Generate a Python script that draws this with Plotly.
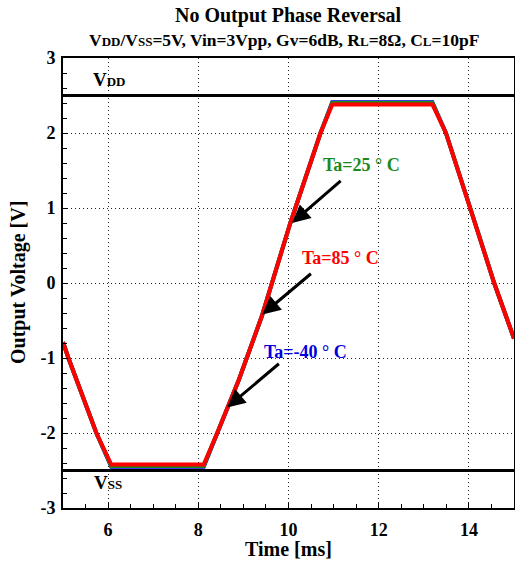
import plotly.graph_objects as go

# tempo (ms) e tensão de saída (V) para cada temperatura
time_ms = [5.0, 5.12, 5.74, 6.07, 8.12, 8.42, 8.90, 9.41, 10.04, 10.71, 10.97,
           13.19, 13.49, 14.03, 14.56, 15.0]
v_m40 = [-0.79, -1.0, -2.0, -2.45, -2.45, -2.0, -1.29, -0.44, 0.80, 2.0, 2.41,
         2.41, 2.0, 1.0, 0.0, -0.74]
v_25 = [-0.79, -1.0, -2.0, -2.44, -2.44, -2.0, -1.29, -0.44, 0.80, 2.0, 2.40,
        2.40, 2.0, 1.0, 0.0, -0.74]
v_85 = [-0.79, -1.0, -2.0, -2.42, -2.42, -2.0, -1.29, -0.44, 0.80, 2.0, 2.38,
        2.38, 2.0, 1.0, 0.0, -0.74]

rails = [2.5, -2.5]
x_ticks = [6, 8, 10, 12, 14]
y_ticks = [-3, -2, -1, 0, 1, 2, 3]

FONT = "Liberation Serif"
SM = "<span style='font-size:{}px'>{}</span>"

fig = go.Figure()
for v, c in [(v_m40, "#0000dd"), (v_25, "#1a8a1a"), (v_85, "#ff0000")]:
    fig.add_trace(go.Scatter(x=time_ms, y=v, mode="lines",
                             line=dict(color=c, width=4), showlegend=False))

for r in rails:
    fig.add_hline(y=r, line=dict(color="black", width=3))

ann = []
# rótulos VDD / VSS
ann.append(dict(x=6.03, y=2.71, text="V" + SM.format(13, "DD"),
                showarrow=False, font=dict(size=19)))
ann.append(dict(x=6.0, y=-2.66, text="V" + SM.format(13, "SS"),
                showarrow=False, font=dict(size=19)))

# setas e textos das temperaturas
labels = [("Ta=25 ° C", "#1a8a1a", 11.62, 1.57, 11.19, 1.38, 10.08, 0.80),
          ("Ta=85 ° C", "#ff0000", 11.16, 0.34, 10.53, 0.14, 9.42, -0.42),
          ("Ta=-40 ° C", "#0000dd", 10.38, -0.92, 9.82, -1.06, 8.64, -1.66)]
for txt, col, tx, ty, ax, ay, hx, hy in labels:
    ann.append(dict(x=tx, y=ty, text=txt, showarrow=False,
                    font=dict(size=18, color=col)))
    ann.append(dict(x=hx, y=hy, ax=ax, ay=ay, axref="x", ayref="y", text="",
                    showarrow=True, arrowhead=2, arrowsize=1.2, arrowwidth=3,
                    arrowcolor="black"))

# títulos
ann.append(dict(xref="paper", yref="paper", x=0.5, y=1, yshift=43,
                text="No Output Phase Reversal", showarrow=False,
                font=dict(size=20)))
ann.append(dict(xref="paper", yref="paper", x=0.49, y=1, yshift=18,
                text=("V" + SM.format(13, "DD") + "/V" + SM.format(13, "SS") + "=5V, "
                      "Vin=3Vpp, Gv=6dB, R" + SM.format(13, "L") + "=8Ω, "
                      "C" + SM.format(13, "L") + "=10pF"),
                showarrow=False, font=dict(size=17.5)))
# títulos dos eixos
ann.append(dict(xref="paper", yref="paper", x=0.5, y=0, yshift=-41,
                text="Time [ms]", showarrow=False, font=dict(size=20)))
ann.append(dict(xref="paper", yref="paper", x=0, y=0.5, xshift=-45,
                text="Output Voltage [V]", textangle=-90, showarrow=False,
                font=dict(size=20)))

for a in ann:
    a.setdefault("xref", "x")
    a.setdefault("yref", "y")
    if a["text"]:
        a["text"] = f"<b>{a['text']}</b>"
        a["xanchor"] = "center"
        a["yanchor"] = "middle"

fig.update_layout(
    width=515, height=567,
    margin=dict(l=63, r=1, t=58, b=59),
    plot_bgcolor="white", paper_bgcolor="white",
    font=dict(family=FONT, color="black", size=16),
    annotations=ann,
)

grid = dict(showgrid=True, gridcolor="#222222", gridwidth=1, griddash="1px,3px")
common = dict(showline=True, linecolor="black", linewidth=2, mirror=True,
              ticks="inside", ticklen=5, tickcolor="black", zeroline=False,
              automargin=False, tickfont=dict(size=18, family=FONT))

fig.update_xaxes(range=[5, 15], tickvals=x_ticks,
                 ticktext=[f"<b>{t}</b>" for t in x_ticks], **common, **grid,
                 ticklabelstandoff=4,
                 minor=dict(dtick=0.5, ticks="inside", ticklen=4, tickcolor="black",
                            showgrid=False))
fig.update_yaxes(range=[-3, 3], tickvals=y_ticks,
                 ticktext=[f"<b>{t}</b>" for t in y_ticks], **common, **grid,
                 ticklabelstandoff=2,
                 minor=dict(dtick=0.2, ticks="inside", ticklen=4, tickcolor="black",
                            showgrid=False))

# eixos espelhados (topo e direita) só para os ticks internos
fig.update_layout(
    xaxis2=dict(overlaying="x", side="top", range=[5, 15], tickvals=x_ticks,
                showticklabels=False, ticks="inside", ticklen=5, tickcolor="black",
                showgrid=False, zeroline=False, automargin=False,
                minor=dict(dtick=0.5, ticks="inside", ticklen=4, tickcolor="black")),
    yaxis2=dict(overlaying="y", side="right", range=[-3, 3], tickvals=y_ticks,
                showticklabels=False, ticks="inside", ticklen=5, tickcolor="black",
                showgrid=False, zeroline=False, automargin=False,
                minor=dict(dtick=0.2, ticks="inside", ticklen=4, tickcolor="black")),
)

fig.write_html("out.html", config={"displayModeBar": False},
               post_script="document.body.style.margin='0';"
                           "document.body.style.overflow='hidden';")
